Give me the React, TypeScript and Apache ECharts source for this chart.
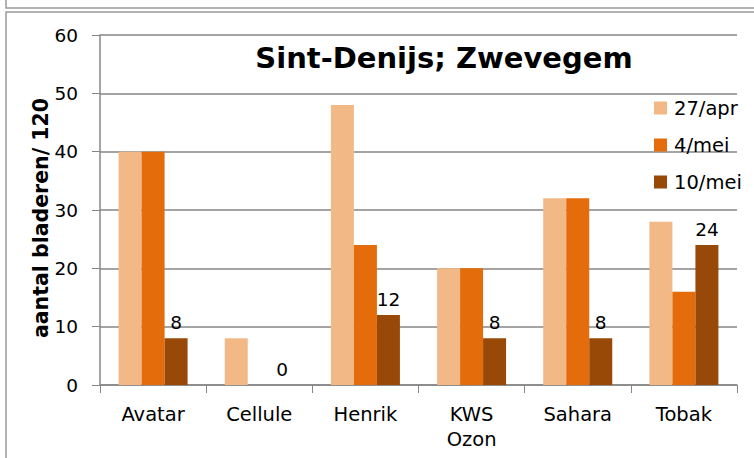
import React, { useEffect, useRef } from "react";
import * as echarts from "echarts";

const categories = ["Avatar", "Cellule", "Henrik", "KWS\nOzon", "Sahara", "Tobak"];
const seriesNames = ["27/apr", "4/mei", "10/mei"];
const apr27 = [40, 8, 48, 20, 32, 28];
const mei4 = [40, 0, 24, 20, 32, 16];
const mei10 = [8, 0, 12, 8, 8, 24];
const colors = ["#F2B886", "#E46C0A", "#984807"];
const FONT = "DejaVu Sans, Verdana, sans-serif";

export default function App() {
  const ref = useRef<HTMLDivElement>(null);
  useEffect(() => {
    if (!ref.current) return;
    const chart = echarts.init(ref.current, null, { renderer: "svg" });
    const values = [apr27, mei4, mei10];
    chart.setOption({
      animation: false,
      backgroundColor: "#ffffff",
      textStyle: { fontFamily: FONT },
      grid: { left: 100, right: 17, top: 35, bottom: 73, containLabel: false },
      graphic: [
        {
          type: "rect",
          shape: { x: 6, y: -20, width: 800, height: 28 },
          style: { fill: "none", stroke: "#9a9a9a", lineWidth: 1.5 },
          silent: true,
        },
        {
          type: "rect",
          shape: { x: 6, y: 12, width: 800, height: 500 },
          style: { fill: "none", stroke: "#9a9a9a", lineWidth: 1.5 },
          silent: true,
        },
        {
          type: "text",
          x: 444,
          y: 58,
          style: {
            text: "Sint-Denijs; Zwevegem",
            font: "bold 29px " + FONT,
            fill: "#000",
            textAlign: "center",
            textVerticalAlign: "middle",
          },
        },
        {
          type: "text",
          x: 41,
          y: 218,
          rotation: Math.PI / 2,
          style: {
            text: "aantal bladeren/ 120",
            font: "bold 20.5px " + FONT,
            fill: "#000",
            textAlign: "center",
            textVerticalAlign: "middle",
          },
        },
      ],
      legend: {
        orient: "vertical",
        left: 649,
        top: 93,
        itemWidth: 13,
        itemHeight: 13,
        itemGap: 17,
        icon: "rect",
        textStyle: { fontSize: 19.5, color: "#000", fontFamily: FONT, padding: [0, 0, 0, 2] },
        data: seriesNames,
      },
      xAxis: {
        type: "category",
        data: categories,
        axisLine: { lineStyle: { color: "#868686", width: 1.5 } },
        axisTick: { show: true, length: 8, lineStyle: { color: "#868686" } },
        axisLabel: {
          fontSize: 19.5,
          color: "#000",
          margin: 17,
          lineHeight: 25,
          fontFamily: FONT,
        },
      },
      yAxis: {
        type: "value",
        min: 0,
        max: 60,
        interval: 10,
        axisLine: { show: true, lineStyle: { color: "#868686", width: 1.5 } },
        axisTick: { show: true, length: 8, lineStyle: { color: "#868686" } },
        axisLabel: { fontSize: 18.5, color: "#000", margin: 22, fontFamily: FONT },
        splitLine: { lineStyle: { color: "#868686", width: 1.5 } },
      },
      series: seriesNames.map((name, i) => ({
        name,
        type: "bar",
        data: values[i],
        barGap: "0%",
        barCategoryGap: "35%",
        itemStyle: { color: colors[i] },
        label:
          i === 2
            ? {
                show: true,
                position: "top",
                distance: 6,
                fontSize: 18.5,
                color: "#000",
                fontFamily: FONT,
              }
            : { show: false },
      })),
    });
    return () => chart.dispose();
  }, []);
  return (
    <div
      ref={ref}
      style={{ position: "fixed", left: 0, top: 0, width: 754, height: 458 }}
    />
  );
}
